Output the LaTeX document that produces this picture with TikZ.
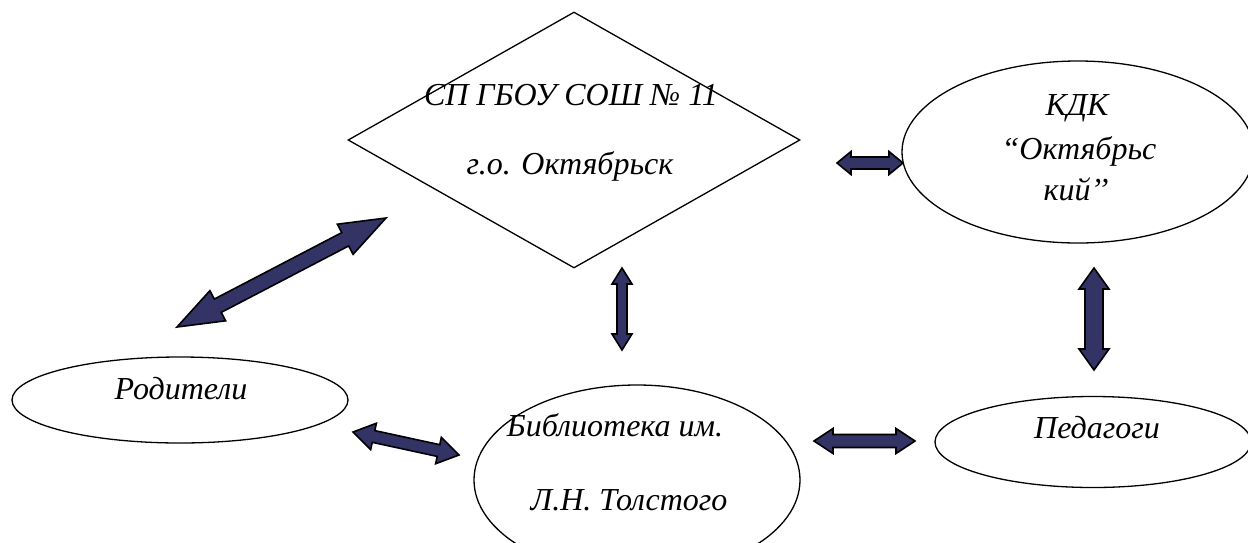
\documentclass[tikz,border=0pt]{standalone}
\usepackage{fontspec}
\setmainfont{Liberation Serif}
\usetikzlibrary{shapes.geometric,calc}
\definecolor{navy}{RGB}{51,51,102}
\tikzset{
  shapeline/.style={draw=black,line width=1.3pt,fill=white},
  lbl/.style={inner sep=0pt,anchor=base,font=\fontsize{32}{38}\selectfont\itshape},
  blockarr/.style={fill=navy,draw=black,line width=1.6pt,line join=miter},
}
% #1 tip, #2 tip, #3 shaft half width, #4 head half width, #5 head length
\newcommand\dblblock[5]{%
  \filldraw[blockarr] (#1)
   -- ($(#1)!#5!(#2)!#4!90:(#2)$)
   -- ($(#1)!#5!(#2)!#3!90:(#2)$)
   -- ($(#2)!#5!(#1)!#3!-90:(#1)$)
   -- ($(#2)!#5!(#1)!#4!-90:(#1)$)
   -- (#2)
   -- ($(#2)!#5!(#1)!#4!90:(#1)$)
   -- ($(#2)!#5!(#1)!#3!90:(#1)$)
   -- ($(#1)!#5!(#2)!#3!-90:(#2)$)
   -- ($(#1)!#5!(#2)!#4!-90:(#2)$)
   -- cycle;}
\begin{document}
\begin{tikzpicture}[x=1pt,y=-1pt]
\useasboundingbox (0,0) rectangle (1248,542);
\clip (0,0) rectangle (1248,542);
\fill[white] (0,0) rectangle (1248,542);

% shapes
\node[shapeline,diamond,inner sep=0pt,minimum width=452pt,minimum height=256pt] (school) at (574,140) {};
\node[shapeline,ellipse,inner sep=0pt,minimum width=352pt,minimum height=182pt] (kdk) at (1078,152) {};
\node[shapeline,ellipse,inner sep=0pt,minimum width=336pt,minimum height=86pt] (parents) at (180,400) {};
\node[shapeline,ellipse,inner sep=0pt,minimum width=326pt,minimum height=190pt] (lib) at (637,480) {};
\node[shapeline,ellipse,inner sep=0pt,minimum width=316pt,minimum height=91pt] (teach) at (1093,442) {};

% texts
\node[lbl] (s1) at (571,105) {СП ГБОУ СОШ № 11};
\node[lbl] (s2) at (570,174) {г.о. Октябрьск};
\node[lbl] (k1) at (1077,115) {КДК};
\node[lbl] (k2) at (1079,159) {“Октябрьс};
\node[lbl] (k3) at (1076,200) {кий’’};
\node[lbl] (p1) at (181,399) {Родители};
\node[lbl] (l1) at (615,436) {Библиотека им.};
\node[lbl] (l2) at (629,510) {Л.Н. Толстого};
\node[lbl] (t1) at (1097,438) {Педагоги};

% arrow end points
\coordinate (a1) at (386,218); \coordinate (b1) at (177,327);
\coordinate (a2) at (622,268); \coordinate (b2) at (622,350);
\coordinate (a3) at (1094,268); \coordinate (b3) at (1094,370);
\coordinate (a4) at (837,163); \coordinate (b4) at (903,163);
\coordinate (a5) at (353,432); \coordinate (b5) at (459,455);
\coordinate (a6) at (814,441); \coordinate (b6) at (915,441);

\dblblock{a1}{b1}{7.5pt}{17pt}{46pt}
\dblblock{a2}{b2}{5pt}{10pt}{16pt}
\dblblock{a3}{b3}{9pt}{15pt}{21pt}
\dblblock{a4}{b4}{6pt}{11.5pt}{14pt}
\dblblock{a5}{b5}{6pt}{13.5pt}{21pt}
\dblblock{a6}{b6}{6.5pt}{12.5pt}{19pt}
\end{tikzpicture}
\end{document}
